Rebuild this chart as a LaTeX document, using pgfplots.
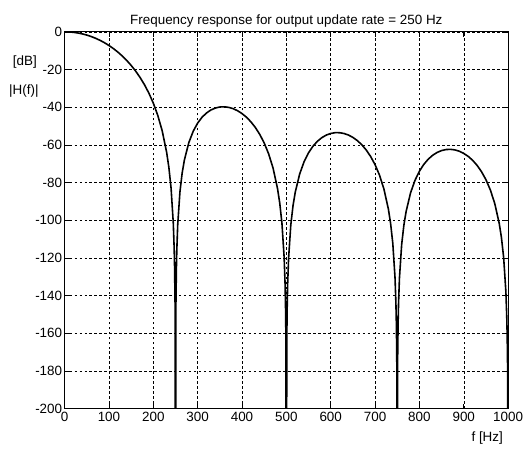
\documentclass[border=0pt]{standalone}
\usepackage{pgfplots}
\pgfplotsset{compat=1.18}
\usepackage{fontspec}
\setmainfont{Liberation Sans}
\begin{document}
\begin{tikzpicture}
\useasboundingbox (-65bp,-47bp) rectangle (462bp,411bp);
\begin{axis}[
  at={(0,0)}, anchor=south west,
  scale only axis, width=446bp, height=379bp,
  xmin=0, xmax=1000, ymin=-200, ymax=0,
  xtick={0,100,...,1000}, ytick={-200,-180,...,0},
  grid=major,
  major grid style={black, line width=0.5bp, dash pattern=on 2.5bp off 2.5bp},
  tick align=inside, major tick length=5bp,
  tick style={black, line width=0.6bp},
  axis line style={black, line width=0.8bp},
  font=\fontsize{13.5bp}{15bp}\selectfont,
  /pgf/number format/assume math mode=true,
  /pgf/number format/set thousands separator={},
  yticklabel style={xshift=1bp},
  title={Frequency response for output update rate = 250 Hz},
  title style={yshift=-5bp},
  clip=true,
]
\addplot[black, line width=1.6bp] coordinates {
(0,0) (10,-0.069) (20,-0.274) (30,-0.620) (40,-1.107) (50,-1.737) (60,-2.518) (70,-3.452) (80,-4.547) (90,-5.813)
(100,-7.260) (110,-8.902) (120,-10.755) (130,-12.841) (140,-15.186) (150,-17.825) (160,-20.806) (170,-24.189) (180,-28.062) (190,-32.554)
(200,-37.861) (210,-44.317) (220,-52.538) (230,-63.916) (235,-71.85) (240,-82.882) (245,-101.41) (247,-114.93) (248,-125.61) (249,-143.77)
(250,-300) (251,-143.98) (252,-126.02) (253,-115.56) (255,-102.45) (260,-84.967) (265,-74.99) (270,-68.094) (280,-58.823) (290,-52.727)
(300,-48.426) (310,-45.310) (320,-43.055) (330,-41.473) (340,-40.447) (350,-39.904) (360,-39.796) (370,-40.096) (380,-40.791) (390,-41.882)
(400,-43.384) (410,-45.325) (420,-47.757) (430,-50.754) (440,-54.436) (450,-58.991) (460,-64.749) (470,-72.319) (480,-83.087) (485,-90.73)
(490,-101.481) (495,-119.74) (497,-133.15) (498,-143.77) (499,-161.89) (500,-300) (501,-161.99) (502,-143.98) (503,-133.47) (505,-120.26)
(510,-102.523) (515,-92.30) (520,-85.172) (530,-75.450) (540,-68.927) (550,-64.220) (560,-60.720) (570,-58.098) (580,-56.168) (590,-54.809)
(600,-53.949) (610,-53.538) (620,-53.548) (630,-53.965) (640,-54.789) (650,-56.035) (660,-57.731) (670,-59.926) (680,-62.696) (690,-66.160)
(700,-70.505) (710,-76.059) (720,-83.433) (730,-94.012) (735,-101.57) (740,-112.223) (745,-130.39) (747,-143.77) (748,-154.37) (749,-172.47)
(750,-300) (751,-172.54) (752,-154.51) (753,-143.98) (755,-130.74) (760,-112.918) (765,-102.61) (770,-95.402) (780,-85.519) (790,-78.841)
(800,-73.984) (810,-70.338) (820,-67.574) (830,-65.507) (840,-64.015) (850,-63.025) (860,-62.488) (870,-62.375) (880,-62.673) (890,-63.382)
(900,-64.514) (910,-66.101) (920,-68.189) (930,-70.855) (940,-74.216) (950,-78.462) (960,-83.920) (970,-91.199) (980,-101.686) (985,-109.20)
(990,-119.807) (995,-137.93) (997,-151.30) (998,-161.89) (999,-179.97) (1000,-300)
};
\end{axis}
\node[font=\fontsize{13.5bp}{15bp}\selectfont] at (-40bp,349bp) {[dB]};
\node[font=\fontsize{13.5bp}{15bp}\selectfont] at (-41bp,319bp) {|H(f)|};
\node[font=\fontsize{13.5bp}{15bp}\selectfont] at (425bp,-30bp) {f [Hz]};
\end{tikzpicture}
\end{document}
